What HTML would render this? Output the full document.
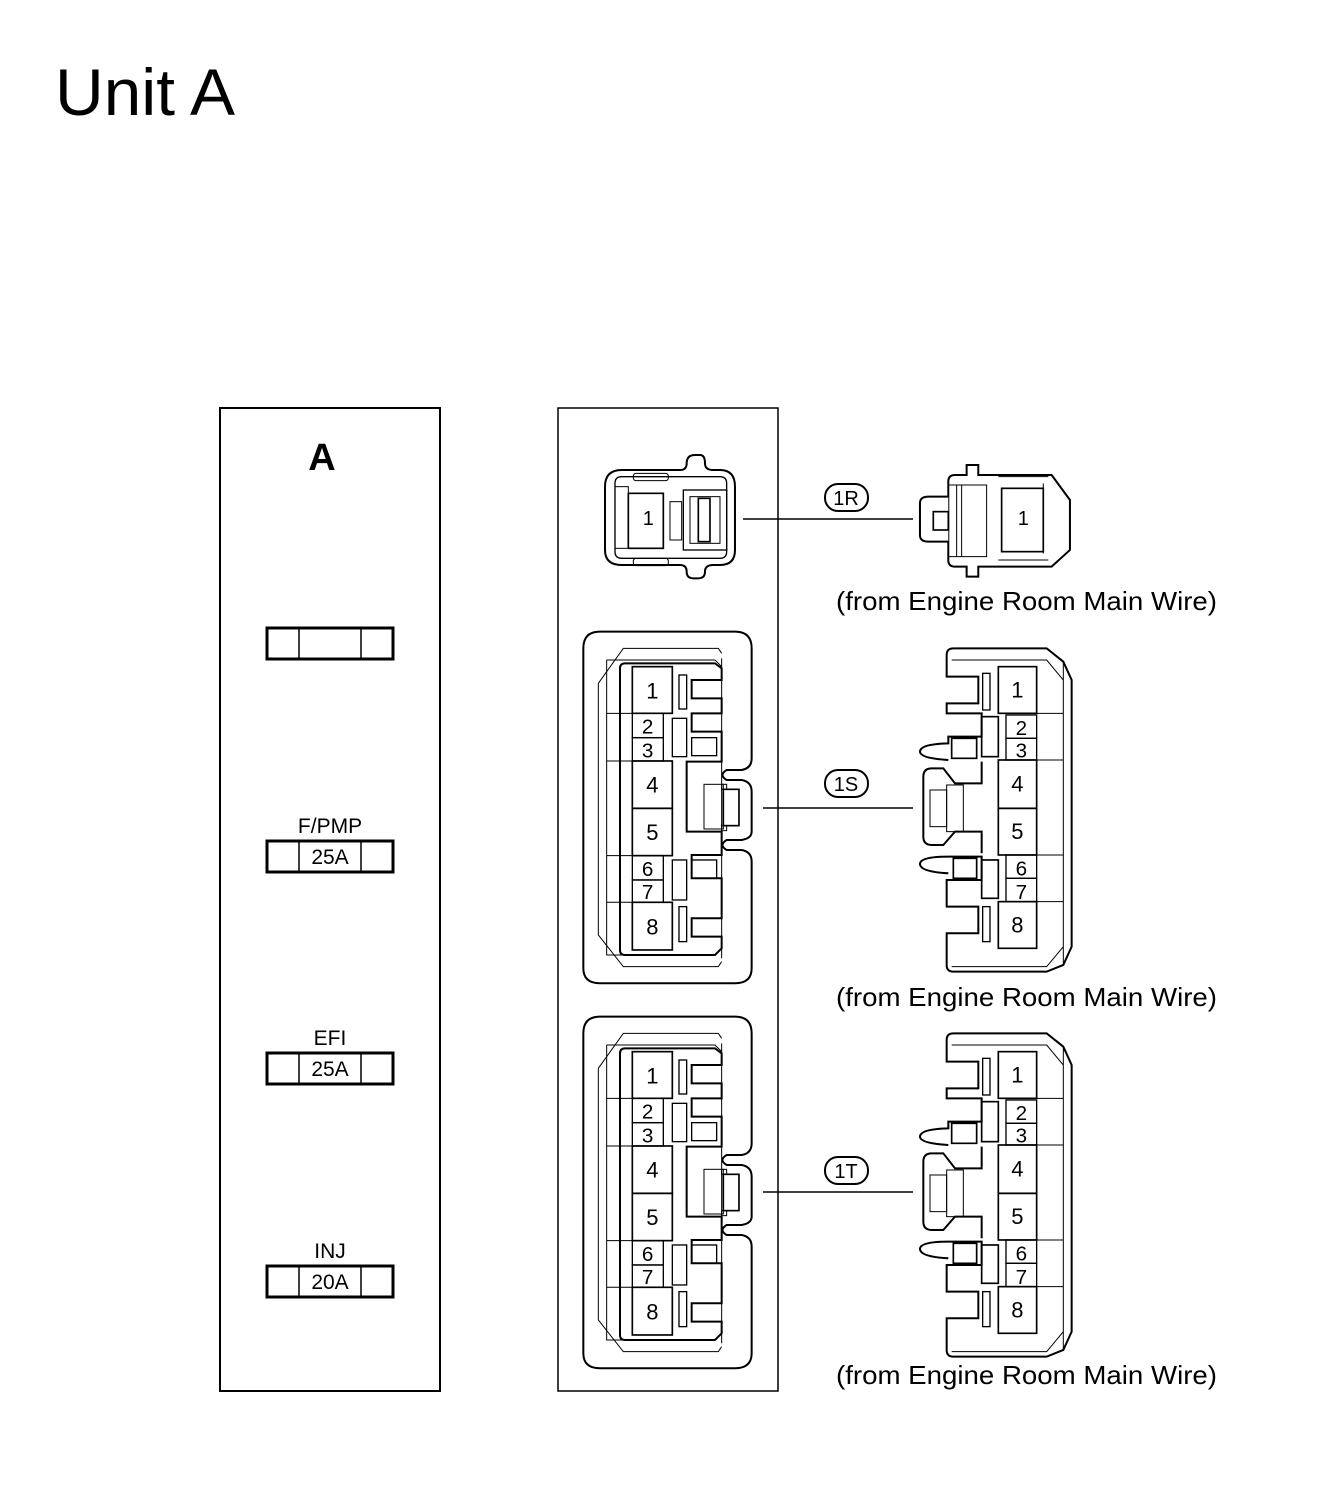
<!DOCTYPE html>
<html><head><meta charset="utf-8"><style>
html,body{margin:0;padding:0;background:#fff}
svg{display:block}
text{font-family:"Liberation Sans",Arial,sans-serif;fill:#000}
</style></head><body>
<svg width="1328" height="1506" viewBox="0 0 1328 1506" xmlns="http://www.w3.org/2000/svg">
<defs>
<g id="lconn" fill="none" stroke="#000">
  <path stroke-width="6" fill="#fff" d="M25,70 Q25,20 75,20 H480 Q530,20 530,70 V400 Q530,430 500,435 H455 Q430,450 455,465 H500 Q530,470 530,500 V620 Q530,640 500,645 H455 Q430,660 455,675 H500 Q530,680 530,710 V1030 Q530,1075 480,1075 H75 Q25,1075 25,1030 Z"/>
  <path stroke-width="3" d="M70,175 L145,70 H430 L440,85 M70,175 V930 L145,1025 H430 L440,1010"/>
  <path stroke-width="3" d="M440,100 V1000 M95,105 H420 L440,125 M95,105 V990 H420 L440,970"/>
  <path stroke-width="6" d="M150,115 H420 L440,130 V165 H350 V220 H440 V265 H350 V320 H440 V410 H335 V620 H440 V690 H350 V760 H440 V880 H350 V935 H440 V970 L420,990 H150 Q135,990 135,975 V130 Q135,115 150,115 Z"/>
  <path stroke-width="3" d="M95,265 H172 M95,408 H172 M95,692 H172 M95,832 H172"/>
  <rect x="172" y="125" width="120" height="140" stroke-width="5"/>
  <rect x="172" y="265" width="93" height="73" stroke-width="4"/>
  <rect x="172" y="338" width="93" height="70" stroke-width="4"/>
  <rect x="172" y="408" width="120" height="142" stroke-width="5"/>
  <rect x="172" y="550" width="120" height="142" stroke-width="5"/>
  <rect x="172" y="692" width="93" height="73" stroke-width="4"/>
  <rect x="172" y="765" width="93" height="67" stroke-width="4"/>
  <rect x="172" y="832" width="120" height="143" stroke-width="5"/>
  <rect x="312" y="150" width="23" height="102" stroke-width="4"/>
  <rect x="292" y="280" width="43" height="115" stroke-width="4"/>
  <rect x="292" y="705" width="43" height="120" stroke-width="4"/>
  <rect x="312" y="845" width="23" height="105" stroke-width="4"/>
  <rect x="350" y="338" width="75" height="54" stroke-width="4"/>
  <rect x="350" y="705" width="75" height="55" stroke-width="4"/>
  <rect x="387" y="478" width="58" height="134" stroke-width="3"/>
  <rect x="445" y="493" width="47" height="109" stroke-width="5"/>
  <rect x="440" y="478" width="15" height="15" stroke-width="3"/>
  <rect x="440" y="602" width="15" height="15" stroke-width="3"/>
  <g stroke="none" font-size="66" text-anchor="middle">
    <text x="232" y="220">1</text><text x="218" y="326" font-size="62">2</text><text x="218" y="397" font-size="62">3</text>
    <text x="232" y="503">4</text><text x="232" y="645">5</text><text x="218" y="753" font-size="62">6</text><text x="218" y="822" font-size="62">7</text><text x="232" y="928">8</text>
  </g>
</g>
<g id="rconn" fill="none" stroke="#000">
  <path stroke-width="6" fill="#fff" d="M160,25 H440 L490,65 L515,120 V920 L490,975 L440,995 H160 Q140,995 140,975 V880 H235 V800 H140 V720 H245 V650 H145 Q60,650 60,672 Q60,695 145,700 M245,640 V575 H165 L130,615 H95 Q70,615 70,590 V410 Q70,385 95,385 H130 L165,430 H245 V365 M145,360 Q60,355 60,335 Q60,312 145,310 V290 H245 V220 H140 V190 H235 V110 H140 V45 Q140,25 160,25"/>
  <path stroke-width="3" d="M155,60 H440 L490,120 V920 L440,980 H155 M490,65 V975"/>
  <path stroke-width="3" d="M410,220 H490 M410,360 H490 M410,645 H490 M410,785 H490"/>
  <rect x="295" y="80" width="115" height="140" stroke-width="5"/>
  <rect x="318" y="225" width="92" height="70" stroke-width="4"/>
  <rect x="318" y="295" width="92" height="65" stroke-width="4"/>
  <rect x="295" y="360" width="115" height="145" stroke-width="5"/>
  <rect x="295" y="505" width="115" height="140" stroke-width="5"/>
  <rect x="318" y="645" width="92" height="70" stroke-width="4"/>
  <rect x="318" y="715" width="92" height="70" stroke-width="4"/>
  <rect x="295" y="785" width="115" height="140" stroke-width="5"/>
  <rect x="248" y="100" width="22" height="110" stroke-width="4"/>
  <rect x="245" y="230" width="50" height="120" stroke-width="5"/>
  <rect x="245" y="660" width="50" height="115" stroke-width="5"/>
  <rect x="248" y="800" width="22" height="105" stroke-width="4"/>
  <rect x="155" y="295" width="75" height="60" stroke-width="5"/>
  <rect x="160" y="655" width="70" height="60" stroke-width="5"/>
  <rect x="140" y="435" width="50" height="140" stroke-width="3"/>
  <rect x="90" y="450" width="50" height="110" stroke-width="3"/>
  <g stroke="none" font-size="66" text-anchor="middle">
    <text x="352" y="172">1</text><text x="364" y="285" font-size="62">2</text><text x="364" y="352" font-size="62">3</text>
    <text x="352" y="455">4</text><text x="352" y="597">5</text><text x="364" y="706" font-size="62">6</text><text x="364" y="777" font-size="62">7</text><text x="352" y="877">8</text>
  </g>
</g>
</defs>

<text x="55" y="115" font-size="66" textLength="180" lengthAdjust="spacingAndGlyphs">Unit A</text>

<rect x="220" y="408" width="220" height="983" fill="none" stroke="#000" stroke-width="2"/>
<rect x="558" y="408" width="220" height="983" fill="none" stroke="#000" stroke-width="1.5"/>
<text x="322" y="470" font-size="38" font-weight="bold" text-anchor="middle">A</text>

<g fill="none" stroke="#000" stroke-width="3">
  <rect x="267" y="628" width="126" height="31"/><path d="M299,628V659M361,628V659" stroke-width="1.5"/>
  <rect x="267" y="841" width="126" height="31"/><path d="M299,841V872M361,841V872" stroke-width="1.5"/>
  <rect x="267" y="1053" width="126" height="31"/><path d="M299,1053V1084M361,1053V1084" stroke-width="1.5"/>
  <rect x="267" y="1266" width="126" height="31"/><path d="M299,1266V1297M361,1266V1297" stroke-width="1.5"/>
</g>
<g font-size="21" text-anchor="middle">
  <text x="330" y="833">F/PMP</text><text x="330" y="864">25A</text>
  <text x="330" y="1045">EFI</text><text x="330" y="1076">25A</text>
  <text x="330" y="1258">INJ</text><text x="330" y="1289">20A</text>
</g>

<!-- 1R left -->
<g transform="translate(580,450) scale(0.3333)" fill="none" stroke="#000">
  <path stroke-width="6" fill="#fff" d="M75,110 Q75,60 125,60 H300 Q320,60 320,40 Q320,15 345,15 H360 Q375,15 375,40 Q375,60 400,60 H420 Q465,60 465,110 V300 Q465,345 420,345 H400 Q375,345 375,365 Q375,385 355,385 H340 Q320,385 320,365 Q320,345 300,345 H125 Q75,345 75,300 Z"/>
  <path stroke-width="4" d="M105,100 Q105,80 125,80 H420 Q440,80 440,100 V305 Q440,325 420,325 H125 Q105,325 105,305 Z"/>
  <rect x="160" y="70" width="105" height="22" rx="8" stroke-width="3"/>
  <rect x="160" y="325" width="105" height="22" rx="8" stroke-width="3"/>
  <rect x="145" y="130" width="105" height="165" stroke-width="5"/>
  <rect x="105" y="110" width="40" height="185" stroke-width="3"/>
  <rect x="270" y="155" width="35" height="115" stroke-width="3"/>
  <rect x="310" y="120" width="130" height="180" stroke-width="4"/>
  <rect x="330" y="140" width="90" height="140" stroke-width="3"/>
  <rect x="355" y="145" width="35" height="130" stroke-width="5"/>
  <text x="205" y="225" font-size="60" stroke="none" text-anchor="middle">1</text>
</g>
<!-- 1R right -->
<g transform="translate(580,450) scale(0.3333)" fill="none" stroke="#000">
  <path stroke-width="6" fill="#fff" d="M1105,95 Q1105,75 1125,75 H1160 V45 H1195 V75 H1415 L1470,150 V300 L1415,350 H1195 V380 H1160 V350 H1125 Q1105,350 1105,330 Z"/>
  <path stroke-width="6" fill="#fff" d="M1105,140 H1045 Q1020,140 1020,160 V255 Q1020,275 1045,275 H1105"/>
  <rect x="1060" y="185" width="45" height="55" stroke-width="5"/>
  <path stroke-width="3" d="M1105,105 H1220 V320 H1105 M1130,105 V320 M1145,105 V320 M1255,80 H1405 M1255,330 H1405 M1390,100 V310"/>
  <rect x="1265" y="115" width="125" height="190" stroke-width="5"/>
  <text x="1330" y="225" font-size="60" stroke="none" text-anchor="middle">1</text>
</g>

<use href="#lconn" transform="translate(575,625) scale(0.3333)"/>
<use href="#lconn" transform="translate(575,1010) scale(0.3333)"/>
<use href="#rconn" transform="translate(900,640) scale(0.3333)"/>
<use href="#rconn" transform="translate(900,1025) scale(0.3333)"/>

<g stroke="#000" stroke-width="1.5">
  <line x1="743" y1="519" x2="913" y2="519"/>
  <line x1="763" y1="808" x2="913" y2="808"/>
  <line x1="763" y1="1192" x2="913" y2="1192"/>
</g>
<g fill="#fff" stroke="#000" stroke-width="2">
  <rect x="825" y="484" width="43" height="27" rx="13"/>
  <rect x="825" y="770" width="43" height="27" rx="13"/>
  <rect x="825" y="1157" width="43" height="27" rx="13"/>
</g>
<g font-size="20" text-anchor="middle">
  <text x="846" y="505">1R</text><text x="846" y="791">1S</text><text x="846" y="1178">1T</text>
</g>
<g font-size="26">
  <text x="836" y="610" textLength="381" lengthAdjust="spacingAndGlyphs">(from Engine Room Main Wire)</text>
  <text x="836" y="1006" textLength="381" lengthAdjust="spacingAndGlyphs">(from Engine Room Main Wire)</text>
  <text x="836" y="1384" textLength="381" lengthAdjust="spacingAndGlyphs">(from Engine Room Main Wire)</text>
</g>
</svg>
</body></html>
